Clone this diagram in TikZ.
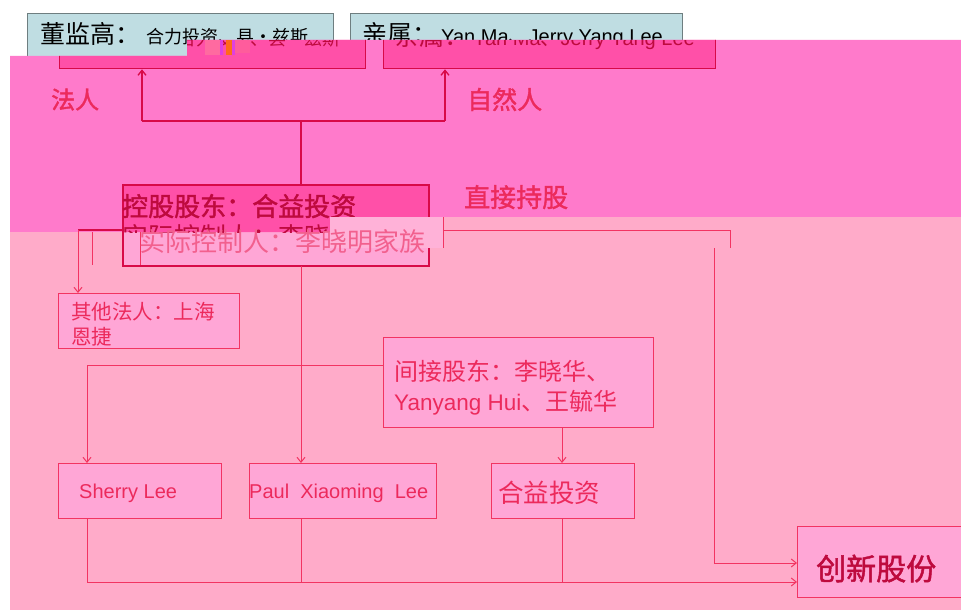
\documentclass[tikz,border=0pt]{standalone}
\usepackage{fontspec}
\setmainfont{Liberation Sans}
\newfontfamily\cjk{Noto Sans CJK SC}
\newfontfamily\cjkb[FakeBold=1.6]{Noto Sans CJK SC}
\usetikzlibrary{arrows.meta}
\newcommand\fsz[1]{\fontsize{#1pt}{#1pt}\selectfont}
\definecolor{bright}{HTML}{FF7ACB}
\definecolor{lightbg}{HTML}{FFABC9}
\definecolor{boxlight}{HTML}{FFA6D6}
\definecolor{boxdark}{HTML}{FF50A8}
\definecolor{patchc}{HTML}{FFB2D8}
\definecolor{linered}{HTML}{F23462}
\definecolor{linedark}{HTML}{D80A48}
\definecolor{textred}{HTML}{EC2A5C}
\definecolor{textdark}{HTML}{BE0A3E}
\definecolor{textlight}{HTML}{F2608E}
\definecolor{bluefill}{HTML}{BFDDE2}
\definecolor{blueborder}{HTML}{6E7E80}
\definecolor{glpink}{HTML}{FF6AA0}
\definecolor{glmag}{HTML}{E040E0}
\definecolor{glorange}{HTML}{FF6A1A}
\definecolor{glpink2}{HTML}{FF5C9C}
\tikzset{
  bluebox/.style={draw=blueborder, fill=bluefill, line width=1.3pt, rectangle, inner sep=0pt, anchor=north west},
  lbox/.style={draw=linered, fill=boxlight, line width=1pt, rectangle, inner sep=0pt, anchor=north west},
  dbox/.style={draw=linedark, fill=boxdark, line width=1.3pt, rectangle, inner sep=0pt, anchor=north west},
  conn/.style={draw=linered, line width=1pt},
  conndark/.style={draw=linedark, line width=1.3pt},
  tip/.style={-{Straight Barb[length=5pt,width=8pt]}},
  txt/.style={inner sep=0pt, anchor=base west},
}
\begin{document}
\begin{tikzpicture}[x=1pt,y=-1pt]
\useasboundingbox (0,0) rectangle (961,610);
\fill[white] (0,0) rectangle (961,610);

% original blue boxes at the top
\node[bluebox, minimum width=306pt, minimum height=51pt] (blueA) at (27,13) {};
\node[bluebox, minimum width=332pt, minimum height=51pt] (blueB) at (350,13) {};
\node[txt, text=black] (blueAt) at (40,43.5) {\cjk\fsz{25}董监高：\hspace{6pt}\fsz{18}合力投资、县·兹斯};
\node[txt, text=black] (blueBt) at (362,44) {{\cjk\fsz{25}亲属：}\hspace{4pt}{\fsz{20}Yan Ma}{\cjk\fsz{20}、}{\fsz{20}Jerry Yang Lee}};

% background bands
\fill[bright] (10,56) -- (187,56) -- (187,40) -- (961,40) -- (961,217) -- (330,217) -- (330,232) -- (10,232) -- cycle;
\fill[lightbg] (10,232) -- (330,232) -- (330,217) -- (961,217) -- (961,610) -- (10,610) -- cycle;

% shifted copies of the top boxes
\begin{scope}
\clip (10,56) -- (187,56) -- (187,40) -- (961,40) -- (961,217) -- (330,217) -- (330,232) -- (10,232) -- cycle;
\node[dbox, minimum width=306pt, minimum height=51pt] (pinkA) at (59,17) {};
\node[dbox, minimum width=332pt, minimum height=51pt] (pinkB) at (383,17) {};
\node[txt, text=textdark] (pinkAt) at (72,46) {\cjk\fsz{25}董监高：\hspace{6pt}\fsz{18}合力投资、县·兹斯};
\node[txt, text=textdark] (pinkBt) at (394,45.5) {{\cjk\fsz{25}亲属：}\hspace{4pt}{\fsz{20}Yan Ma}{\cjk\fsz{20}、}{\fsz{20}Jerry Yang Lee}};
\end{scope}
\fill[glpink] (205,40) rectangle (220,55);
\fill[glmag] (220,40) rectangle (223,55);
\fill[glorange] (226,40) rectangle (232,55);
\fill[glmag] (232,40) rectangle (235,55);
\fill[glpink2] (235,40) rectangle (250,53);

% connectors at the top
\coordinate (jL) at (142,121);
\coordinate (jR) at (445,121);
\coordinate (jTop) at (301,121);
\draw[conndark, tip] (jL) -- (jL |- pinkA.south);
\draw[conndark, tip] (jR) -- (jR |- pinkB.south);
\draw[conndark] (jL) -- (jR);

% labels
\node[txt, text=textred] (lfaren) at (51,108.6) {\cjkb\fsz{24}法人};
\node[txt, text=textred] (lziran) at (467,109) {\cjkb\fsz{25}自然人};
\node[txt, text=textred] (lzhijie) at (464,207) {\cjkb\fsz{26}直接持股};

% controlling shareholder box
\node[lbox, minimum width=305pt, minimum height=80pt] (ctrl) at (123,185) {};
\draw[conndark] (jTop) -- (jTop |- ctrl.north);
\begin{scope}
\clip (10,56) -- (187,56) -- (187,40) -- (961,40) -- (961,217) -- (330,217) -- (330,232) -- (10,232) -- cycle;
\fill[boxdark] (ctrl.north west) rectangle (ctrl.south east);
\node[txt, text=textdark] (ctrlfrag) at (122,246) {\cjk\fsz{26}实际控制人：李晓明家族};
\end{scope}
\draw[linedark, line width=1.3pt] (ctrl.north west) rectangle (ctrl.south east);
\node[txt, text=textdark] (ctrlt) at (122,216) {\cjkb\fsz{26}控股股东：合益投资};

% branch lines from the controlling shareholder
\coordinate (kL) at (78,230);
\coordinate (kR) at (730,230);
\coordinate (kR2) at (730,248);
\coordinate (kD) at (714,248);
\coordinate (kE) at (714,563);
\draw[conndark] (ctrl.west |- kL) -- (kL);
\draw[conn] (ctrl.east |- kR) -- (kR) -- (kR2);

% glitch patch
\fill[patchc] (330,217) rectangle (443,248);
\draw[linered, line width=0.8pt] (443,217) -- (443,248);
\draw[linered, line width=0.8pt] (92,232) -- (92,265);
\draw[linered, line width=0.8pt] (140,232) -- (140,265);
\node[txt, text=textlight] (ctrlt2) at (139,251) {\cjk\fsz{26}实际控制人：李晓明家族};

% lower boxes
\node[lbox, minimum width=181pt, minimum height=55pt] (other) at (58,293) {};
\node[lbox, minimum width=270pt, minimum height=90pt] (indirect) at (383,337) {};
\node[lbox, minimum width=163pt, minimum height=55pt] (sherry) at (58,463) {};
\node[lbox, minimum width=187pt, minimum height=55pt] (paul) at (249,463) {};
\node[lbox, minimum width=143pt, minimum height=55pt] (heyi) at (491,463) {};
\node[lbox, minimum width=175pt, minimum height=71pt] (cx) at (797,526) {};

% box texts
\node[txt, text=textred] (othert1) at (71,319.5) {\cjk\fsz{20.5}其他法人：上海};
\node[txt, text=textred] (othert2) at (71,344.5) {\cjk\fsz{20.5}恩捷};
\node[txt, text=textred] (indt1) at (394,380.6) {\cjk\fsz{24}间接股东：李晓华、};
\node[txt, text=textred] (indt2) at (394,410) {{\fsz{22.5}Yanyang Hui}{\cjk\fsz{24}、王毓华}};
\node[txt, text=textred] (sherryt) at (79,498) {\fsz{20}Sherry Lee};
\node[txt, text=textred] (pault) at (249,498) {\fsz{20}Paul\ \ Xiaoming\ \ Lee};
\node[txt, text=textred] (heyit) at (498,502) {\cjk\fsz{25.5}合益投资};
\node[txt, text=textdark] (cxt) at (816,580) {\cjkb\fsz{30}创新股份};

% lower connectors
\draw[conn, tip] (kL) -- (kL |- other.north);
\draw[conn, tip] (kD) -- (kE) -- (kE -| cx.west);
\draw[conn, tip] (ctrl.south -| jTop) -- (paul.north -| jTop);
\coordinate (mL) at (87,365);
\draw[conn] (indirect.west |- mL) -- (mL);
\draw[conn, tip] (mL) -- (mL |- sherry.north);
\coordinate (nI) at (562,427);
\draw[conn, tip] (indirect.south -| nI) -- (heyi.north -| nI);
\coordinate (bL) at (87,582);
\draw[conn] (sherry.south -| bL) -- (bL);
\draw[conn, tip] (bL) -- (bL -| cx.west);
\draw[conn] (paul.south -| jTop) -- (jTop |- bL);
\draw[conn] (heyi.south -| nI) -- (nI |- bL);
\end{tikzpicture}
\end{document}
